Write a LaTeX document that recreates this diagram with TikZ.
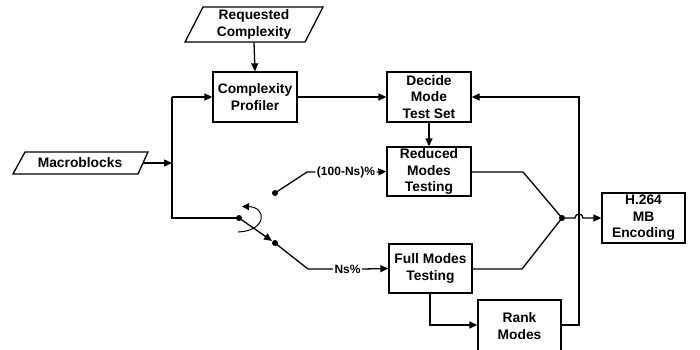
\documentclass[tikz,border=0pt]{standalone}
\usepackage{fontspec}
\setmainfont{Liberation Sans}
\usetikzlibrary{arrows.meta}
\begin{document}
\begin{tikzpicture}[x=1pt,y=-1pt,line width=1.3pt,
  box/.style={draw,minimum width=84pt,minimum height=50pt,align=center,inner sep=0pt,
    font=\fontsize{13.8}{16.5}\selectfont\bfseries},
  txt/.style={align=center,inner sep=0pt,font=\fontsize{13.8}{16.5}\selectfont\bfseries},
  lbl/.style={inner sep=1pt,font=\fontsize{12}{14}\selectfont\bfseries},
  arr/.style={-{Triangle[length=8pt,width=7pt]}},
  dotn/.style={circle,fill,inner sep=0pt,minimum size=6pt}]
\clip (0,0) rectangle (700,349);
\fill[white] (0,0) rectangle (700,349);
% parallelograms
\draw (185,42) -- (203,7) -- (323,7) -- (305,42) -- cycle;
\node[txt,minimum height=35pt] (rc) at (254,24.5) {Requested\\Complexity};
\draw (13,174) -- (25,152) -- (148,152) -- (138,174) -- cycle;
\node[txt,minimum height=22pt] (mb) at (80,163) {Macroblocks};
\coordinate (mbe) at (143,163);
% boxes
\node[box] (cp) at (255,97) {Complexity\\Profiler};
\node[box] (dm) at (429,97) {Decide\\Mode\\Test Set};
\node[box,minimum height=49pt] (rm) at (429,171.5) {Reduced\\Modes\\Testing};
\node[box,minimum width=83pt,minimum height=49pt] (fm) at (430.5,268.5) {Full Modes\\Testing};
\node[box,minimum width=83pt,minimum height=52pt] (rk) at (519.5,326) {Rank\\Modes};
\node[box,minimum width=83pt] (h) at (643.5,218) {H.264\\MB\\Encoding};
% junctions
\coordinate (jt) at (172,97);
\coordinate (jm) at (172,163);
\coordinate (jb) at (172,218);
\node[dotn] (p) at (239,218) {};
\node[dotn] (c1) at (275,193) {};
\node[dotn] (c2) at (275,243) {};
\node[dotn] (m) at (562,218) {};
\coordinate (b1) at (307,172);
\coordinate (b2) at (308,269);
\coordinate (r1) at (523,172);
\coordinate (f1) at (522,269);
\coordinate (hop) at (575,218);
\coordinate (fb) at (579,97);
\coordinate (rb) at (579,325);
\coordinate (fd) at (430,325);
\coordinate (a1) at (238,232);
\coordinate (a2) at (242,206.5);
\node[lbl] (pct) at (346,172) {(100-Ns)\%};
\node[lbl] (ns) at (347.5,269) {Ns\%};
% connectors
\draw[arr] (rc.south) -- (cp.north);
\draw[arr] (mbe) -- (jm);
\draw (jt) -- (jb) -- (p.center);
\draw[arr] (jt) -- (cp.west);
\draw[arr] (cp.east) -- (dm.west);
\draw[arr] (dm.south) -- (rm.north);
\draw[arr] (p.center) -- (c2);
\draw (c2.center) -- (b2) -- (ns.west);
\draw[arr] (ns.east) -- (fm.west);
\draw (c1.center) -- (b1) -- (pct.west);
\draw[arr] (pct.east) -- (rm.west);
\draw[line width=1pt,-{Triangle[length=7pt,width=7pt]}] (a1) .. controls (267,231) and (267,207) .. (a2);
\draw (rm.east |- r1) -- (r1) -- (m.center);
\draw (fm.east |- f1) -- (f1) -- (m.center);
\draw[arr] (m.center) -- (hop) arc[start angle=180,end angle=0,radius=4pt] -- (h.west);
\draw[arr] (fm.south -| fd) -- (fd) -- (rk.west |- fd);
\draw[arr] (rk.east |- rb) -- (rb) -- (fb) -- (dm.east);
\end{tikzpicture}
\end{document}
